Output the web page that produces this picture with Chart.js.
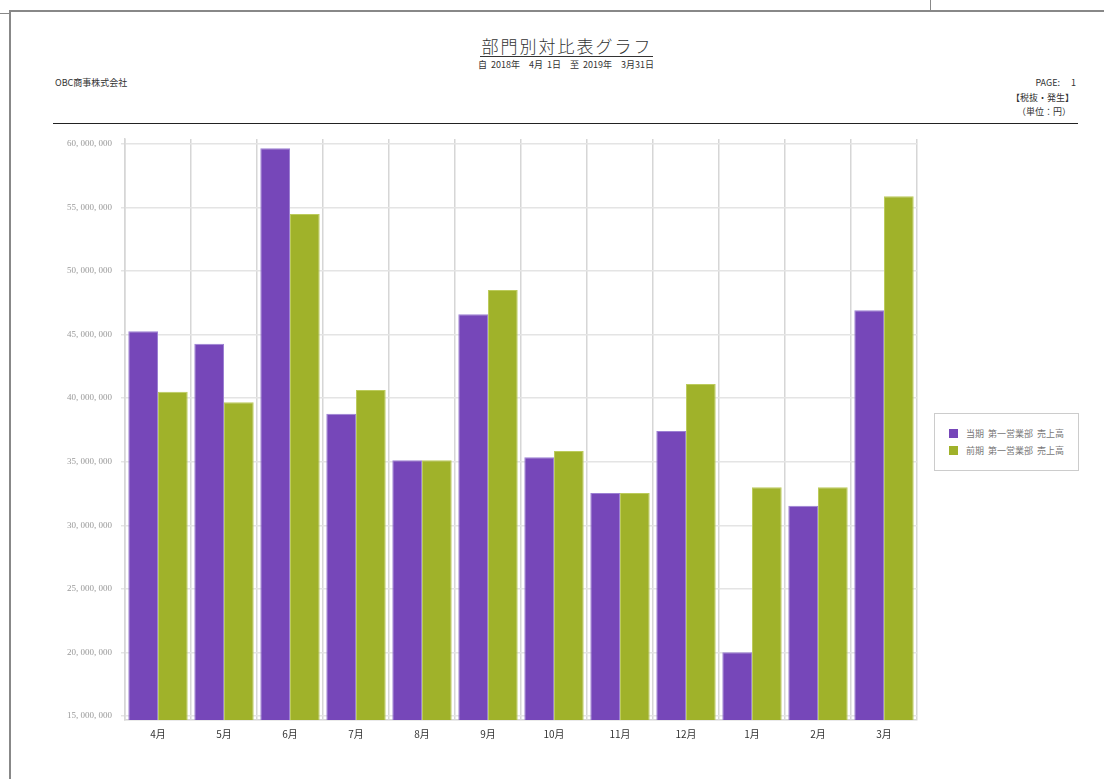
<!DOCTYPE html>
<html>
<head>
<meta charset="utf-8">
<script src="https://cdn.jsdelivr.net/npm/chart.js@4/dist/chart.umd.min.js"></script>
<style>
    body { margin: 0; background: #fff; font-family: "Noto Sans CJK JP", sans-serif; }
    #pagina { position: relative; width: 1104px; height: 779px; overflow: hidden; }
    .abs { position: absolute; white-space: nowrap; }
    #marco { position: absolute; left: 9px; top: 10px; width: 1200px; height: 900px; border-left: 2px solid #888; border-top: 2px solid #888; }
    #stub1 { position: absolute; left: 0; top: 13px; width: 9px; height: 1px; background: #888; }
    #stub2 { position: absolute; left: 930px; top: 0; width: 1px; height: 10px; background: #888; }
    #titulo { left: 0; width: 1132px; top: 37px; text-align: center; font-size: 17px; line-height: 18px; color: #333; letter-spacing: 2px; font-weight: 300; }
    #titulo span { display: inline-block; border-bottom: 1px solid #333; padding: 0 0 1px 2px; }
    #periodo { left: 0; width: 1132px; top: 59px; line-height: 12px; text-align: center; font-size: 9px; color: #333; word-spacing: 2px; }
    #empresa { left: 55px; top: 76px; font-size: 9px; color: #333; }
    #pagina-num { right: 28px; top: 76px; font-size: 9px; color: #333; }
    #tipo { right: 30px; top: 91px; font-size: 9px; color: #333; }
    #unidad { right: 33px; top: 105px; font-size: 9px; color: #333; }
    #linea { left: 53px; top: 123px; width: 1025px; height: 1px; background: #222; }
    #leyenda { left: 934px; top: 413px; width: 143px; height: 56px; border: 1px solid #ccc; background: #fff; }
    .item { position: absolute; left: 14px; font-size: 9px; color: #777; word-spacing: 2px; }
    .item i { display: inline-block; width: 9px; height: 9px; margin-right: 8px; vertical-align: -1px; }
    canvas { position: absolute; left: 0; top: 0; }
</style>
</head>
<body>
<div id="pagina">
    <div id="marco"></div>
    <div id="stub1"></div>
    <div id="stub2"></div>
    <div id="titulo" class="abs"><span>部門別対比表グラフ</span></div>
    <div id="periodo" class="abs">自 2018年　4月 1日　至 2019年　3月31日</div>
    <div id="empresa" class="abs">OBC商事株式会社</div>
    <div id="pagina-num" class="abs">PAGE:　 1</div>
    <div id="tipo" class="abs">【税抜・発生】</div>
    <div id="unidad" class="abs">（単位：円）</div>
    <div id="linea" class="abs"></div>
    <canvas id="bar-chart" width="1104" height="779"></canvas>
    <div id="leyenda" class="abs"></div>
</div>
<script>
var meses = ['4月', '5月', '6月', '7月', '8月', '9月', '10月', '11月', '12月', '1月', '2月', '3月'];
var tousan = [45250000, 44280000, 59640000, 38770000, 35110000, 46590000, 35350000, 32540000, 37410000, 20020000, 31540000, 46900000];
var zenki = [40500000, 39670000, 54470000, 40640000, 35110000, 48500000, 35840000, 32540000, 41110000, 32990000, 32990000, 55860000];
var nombres = ['当期 第一営業部 売上高', '前期 第一営業部 売上高'];
var colores = ['#7647B9', '#A0B22A'];
var bordes = ['#9C80D3', '#BCCB5C'];
var ticksY = [15000000, 20000000, 25000000, 30000000, 35000000, 40000000, 45000000, 50000000, 55000000, 60000000];

function formato(v) {
    return v.toLocaleString('en-US').replace(/,/g, ', ');
}

function armarLeyenda() {
    var html = '';
    for (var i in nombres) {
        html += '<div class="item" style="top:' + (13 + i * 17) + 'px"><i style="background:' + colores[i] + '"></i>' + nombres[i] + '</div>';
    }
    document.getElementById('leyenda').innerHTML = html;
}

function dibujar() {
    var series = [tousan, zenki];
    var datasets = [];
    for (var i in series) {
        datasets.push({
            label: nombres[i],
            data: series[i],
            backgroundColor: colores[i],
            borderColor: bordes[i],
            borderWidth: 1,
            categoryPercentage: 0.9,
            barPercentage: 1.0
        });
    }

    new Chart(document.getElementById('bar-chart'), {
        type: 'bar',
        data: { labels: meses, datasets: datasets },
        options: {
            responsive: false,
            animation: false,
            layout: { padding: { top: 139, right: 187, left: 0, bottom: 0 } },
            plugins: {
                legend: { display: false },
                tooltip: { enabled: false }
            },
            scales: {
                x: {
                    offset: true,
                    grid: { offset: true, color: '#d6d6d6', lineWidth: 1.5, drawTicks: false },
                    border: { color: '#d6d6d6', width: 1.5 },
                    ticks: { color: '#333', font: { family: 'Noto Sans CJK JP', size: 10 }, padding: 8 },
                    afterFit: function (scale) { scale.height = 59; }
                },
                y: {
                    min: 14690000,
                    max: 60370000,
                    afterBuildTicks: function (scale) {
                        scale.ticks = ticksY.map(function (v) { return { value: v }; });
                    },
                    grid: { color: '#e4e4e4', lineWidth: 1.5, tickLength: 4 },
                    border: { color: '#d6d6d6', width: 1.5 },
                    ticks: {
                        color: '#999',
                        padding: 9,
                        font: { family: 'Liberation Serif', size: 9 },
                        callback: function (v) { return formato(v); }
                    },
                    afterFit: function (scale) { scale.width = 125; }
                }
            }
        }
    });
}

armarLeyenda();
dibujar();
</script>
</body>
</html>
